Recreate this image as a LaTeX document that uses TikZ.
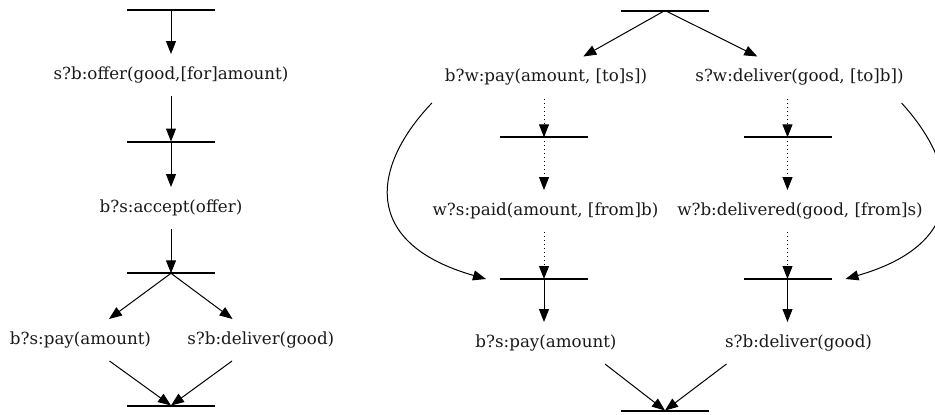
\documentclass[tikz,border=0pt]{standalone}
\usepackage{fontspec}
\setmainfont{DejaVu Serif}
\usetikzlibrary{arrows.meta}
\begin{document}
\begin{tikzpicture}[x=1pt,y=-1pt,
  lbl/.style={inner xsep=0pt,inner ysep=0pt,minimum height=42pt,outer sep=0pt,
    font=\fontsize{16.7}{20}\selectfont,text=black!90},
  bar/.style={inner sep=0pt,outer sep=0pt,minimum width=88pt,minimum height=0pt},
  barline/.style={line width=2pt,black},
  arr/.style={line width=1pt,-{Triangle[length=13pt,width=10pt]}},
  dotarr/.style={arr,dash pattern=on 1pt off 3pt}]
\useasboundingbox (0,0) rectangle (935,415);
% left diagram
\node[bar] (L1) at (171,9.5) {};
\node[lbl] (offer) at (171,75) {s?b:offer(good,[for]amount)};
\node[bar] (L2) at (171,141.5) {};
\node[lbl] (accept) at (171,208) {b?s:accept(offer)};
\node[bar] (L3) at (171,273.3) {};
\node[lbl] (payL) at (80.5,340) {b?s:pay(amount)};
\node[lbl] (delL) at (260.8,340) {s?b:deliver(good)};
\node[bar] (L4) at (171,405.5) {};
% right diagram
\node[bar] (R1) at (665,10.5) {};
\node[lbl] (bwpay) at (546,77.5) {b?w:pay(amount, [to]s])};
\node[lbl] (swdel) at (799.5,77.5) {s?w:deliver(good, [to]b])};
\node[bar] (R2) at (544,137.3) {};
\node[bar] (R3) at (787.5,137.3) {};
\node[lbl] (wspaid) at (545.5,211) {w?s:paid(amount, [from]b)};
\node[lbl] (wbdel) at (800,211) {w?b:delivered(good, [from]s)};
\node[bar] (R4) at (544,279) {};
\node[bar] (R5) at (787.5,279) {};
\node[lbl] (bspay) at (546,343) {b?s:pay(amount)};
\node[lbl] (sbdel) at (798.5,343) {s?b:deliver(good)};
\node[bar] (R6) at (665,410.5) {};
% bars
\foreach \n in {L1,L2,L3,L4,R1,R2,R3,R4,R5,R6}
  \draw[barline] (\n.west) -- (\n.east);
% left connectors
\draw[arr] (L1.center) -- (L1.center |- offer.north);
\draw[arr] (L2.center |- offer.south) -- (L2.center);
\draw[arr] (L2.center) -- (L2.center |- accept.north);
\draw[arr] (L3.center |- accept.south) -- (L3.center);
\draw[arr] (L3.center) -- (payL);
\draw[arr] (L3.center) -- (delL);
\draw[arr] (payL) -- (L4.center);
\draw[arr] (delL) -- (L4.center);
% right connectors
\draw[arr] (R1.center) -- (bwpay);
\draw[arr] (R1.center) -- (swdel);
\draw[dotarr] (R2.center |- bwpay.south) -- (R2.center);
\draw[dotarr] (R3.center |- swdel.south) -- (R3.center);
\draw[dotarr] (R2.center) -- (R2.center |- wspaid.north);
\draw[dotarr] (R3.center) -- (R3.center |- wbdel.north);
\draw[dotarr] (R4.center |- wspaid.south) -- (R4.center);
\draw[dotarr] (R5.center |- wbdel.south) -- (R5.center);
\draw[arr] (R4.center) -- (R4.center |- bspay.north);
\draw[arr] (R5.center) -- (R5.center |- sbdel.north);
\draw[arr] ([xshift=59pt]bspay.south) -- (R6.center);
\draw[arr] ([xshift=-72pt]sbdel.south) -- (R6.center);
\draw[arr] ([shift={(-13pt,-4.5pt)}]bwpay.south west) .. controls (372,166) and (360,243) .. ([xshift=-14pt]R4.west);
\draw[arr] ([shift={(-2pt,-4.5pt)}]swdel.south east) .. controls (959,166) and (971,243) .. ([xshift=14pt]R5.east);
\end{tikzpicture}
\end{document}
